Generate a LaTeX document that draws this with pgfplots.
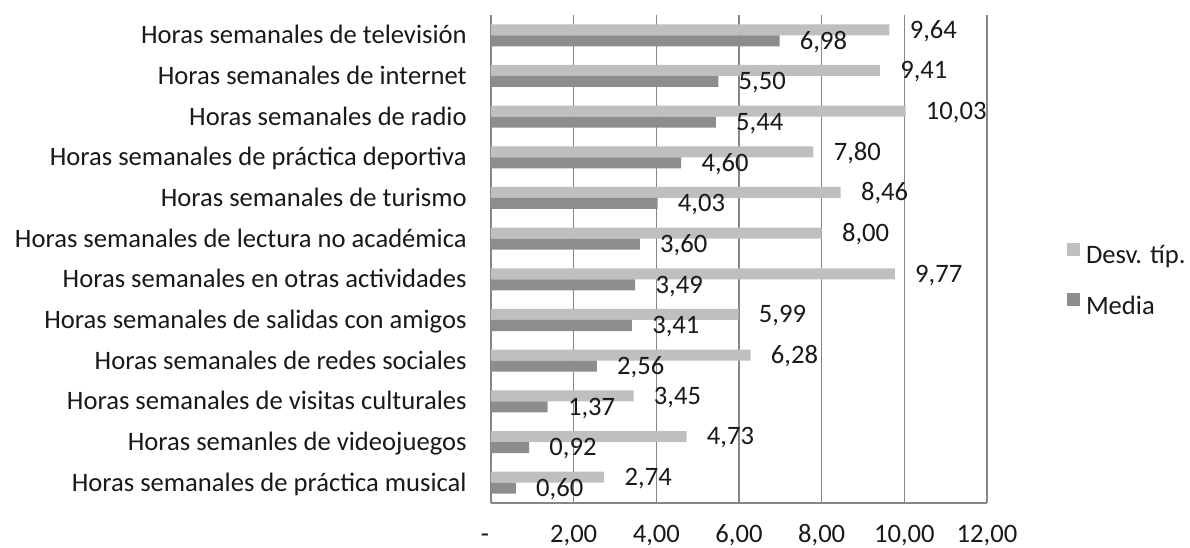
\documentclass[border=0pt]{standalone}
\usepackage{fontspec}
\setmainfont{Carlito}
\usepackage{pgfplots}
\pgfplotsset{compat=1.18}
\definecolor{desv}{RGB}{191,191,191}
\definecolor{media}{RGB}{141,141,141}
\definecolor{gridc}{RGB}{134,134,134}
\definecolor{ink}{RGB}{25,25,25}
\newcommand{\lblfont}{\fontsize{13.3bp}{16bp}\selectfont}

\begin{document}
\begin{tikzpicture}
\begin{axis}[
  at={(0,0)}, anchor=south west,
  scale only axis, width=248bp, height=244bp,
  xbar, bar width=5.5bp,
  xmin=0, xmax=12, ymin=-0.5, ymax=11.5,
  xtick={0,2,...,12},
  xticklabels={{-\hspace*{6bp}},{2,00},{4,00},{6,00},{8,00},{10,00},{12,00}},
  ytick={0,...,11},
  yticklabels={
    Horas semanales de práctica musical,
    Horas semanles de videojuegos,
    Horas semanales de visitas culturales,
    Horas semanales de redes sociales,
    Horas semanales de salidas con amigos,
    Horas semanales en otras actividades,
    Horas semanales de lectura no académica,
    Horas semanales de turismo,
    Horas semanales de práctica deportiva,
    Horas semanales de radio,
    Horas semanales de internet,
    Horas semanales de televisión},
  major tick length=0pt,
  axis x line*=bottom, axis y line*=left,
  axis line style={gridc, line width=0.6bp, -},
  xmajorgrids, grid style={gridc, line width=0.6bp},
  tick label style={font=\lblfont, text=ink},
  xticklabel style={anchor=base, yshift=-19.5bp, inner sep=0pt},
  yticklabel style={anchor=base east, inner sep=0pt, xshift=-12bp, yshift=-4.2bp},
  nodes near coords={\pgfmathprintnumber[fixed,fixed zerofill,precision=2,use comma,assume math mode=true]{\pgfplotspointmeta}},
  nodes near coords style={font=\lblfont, text=ink, anchor=base west, inner sep=0pt, xshift=10bp, yshift=-4.2bp},
  legend style={at={(1.1613,0.454)}, anchor=west, draw=none, fill=none,
    inner sep=0pt, outer sep=0pt, row sep=12bp, column sep=3bp,
    nodes={inner sep=0pt, text height=9bp, text depth=3bp, font=\lblfont, text=ink}},
  legend cell align=left,
  legend image code/.code={\fill[#1] (0bp,0.85bp) rectangle (6.5bp,7.35bp);},
]
\addplot[fill=desv, draw=none, bar shift=2.75bp] coordinates {
  (2.74,0) (4.73,1) (3.45,2) (6.28,3) (5.99,4) (9.77,5)
  (8.00,6) (8.46,7) (7.80,8) (10.03,9) (9.41,10) (9.64,11)};
\addplot[fill=media, draw=none, bar shift=-2.75bp] coordinates {
  (0.60,0) (0.92,1) (1.37,2) (2.56,3) (3.41,4) (3.49,5)
  (3.60,6) (4.03,7) (4.60,8) (5.44,9) (5.50,10) (6.98,11)};
\legend{Desv. típ.,Media}
\end{axis}
\pgfresetboundingbox
\path[use as bounding box] (-245.5bp,-22.5bp) rectangle (349.5bp,251.5bp);
\end{tikzpicture}
\end{document}
